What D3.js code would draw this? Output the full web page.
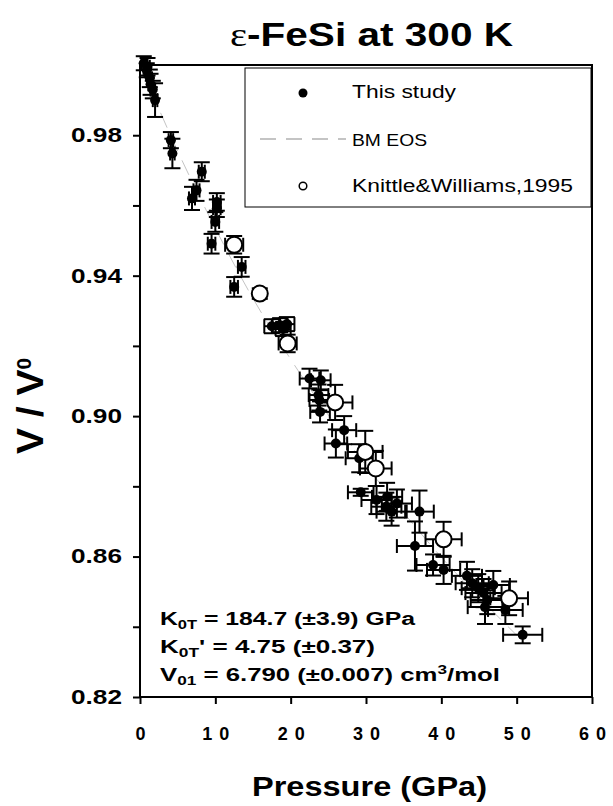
<!DOCTYPE html>
<html>
<head>
<meta charset="utf-8">
<script src="https://cdn.jsdelivr.net/npm/d3@7"></script>
<style>
  body { margin: 0; background: #fff; }
</style>
</head>
<body>
<div id="vis"></div>
<script>
// This study: pressure (GPa), V/V0 and error bars
const studyP = [0.5, 1.0, 0.9, 1.3, 1.4, 1.7, 2.0, 4.1, 4.3, 8.2, 7.5, 6.9, 10.2, 10.2, 10.0, 9.5,
  13.5, 12.5, 17.5, 18.6, 19.5, 19.0, 22.5, 24.0, 23.7, 23.8, 23.9, 27.1, 26.0, 29.1, 29.3,
  31.4, 32.8, 32.7, 34.1, 33.4, 37.1, 36.5, 38.9, 40.3, 43.4, 44.1, 44.9, 45.6, 46.9, 46.1, 45.8, 48.5, 50.8];
const studyV = [1.0005, 0.9995, 0.9985, 0.9962, 0.9945, 0.9930, 0.9900, 0.9786, 0.9748, 0.9696, 0.9643, 0.9620,
  0.9610, 0.9592, 0.9553, 0.9491, 0.9425, 0.9368, 0.9256, 0.9259, 0.9262, 0.9248, 0.9107, 0.9102, 0.9060,
  0.9046, 0.9012, 0.8960, 0.8922, 0.8880, 0.8783, 0.8761, 0.8770, 0.8742, 0.8751, 0.8728, 0.8728, 0.8630,
  0.8576, 0.8562, 0.8545, 0.8524, 0.8510, 0.8496, 0.8519, 0.8476, 0.8456, 0.8448, 0.8377];
const studyPErr = [0.3, 0.3, 0.3, 0.3, 0.3, 0.3, 0.3, 0.3, 0.3, 0.4, 0.4, 0.4, 0.5, 0.5, 0.5, 0.5,
  0.5, 0.5, 1.0, 1.0, 1.0, 1.0, 1.3, 1.3, 1.3, 1.3, 1.3, 1.6, 1.5, 1.8, 1.7,
  2.0, 2.0, 2.0, 2.0, 2.0, 1.9, 2.4, 2.2, 2.2, 2.0, 2.2, 2.2, 2.4, 2.2, 2.2, 2.3, 2.3, 2.6];
const studyVErr = [0.002, 0.0025, 0.002, 0.0025, 0.003, 0.0025, 0.0048, 0.0023, 0.0042, 0.0027, 0.003, 0.0033,
  0.0025, 0.0025, 0.0028, 0.0028, 0.0028, 0.0028, 0.002, 0.002, 0.002, 0.002, 0.0028, 0.0028, 0.003,
  0.003, 0.003, 0.004, 0.004, 0.004, 0.001, 0.004, 0.004, 0.004, 0.004, 0.004, 0.006, 0.007,
  0.003, 0.004, 0.004, 0.004, 0.004, 0.004, 0.004, 0.004, 0.0048, 0.004, 0.0024];

// Knittle & Williams, 1995
const kwP = [12.5, 15.9, 19.6, 25.9, 29.9, 31.3, 40.3, 49.0];
const kwV = [0.9488, 0.9349, 0.9207, 0.9039, 0.8898, 0.8851, 0.8649, 0.8481];
const kwPErr = [1.2, 0.5, 1.2, 2.3, 2.3, 2.1, 2.4, 2.5];
const kwVErr = [0.0025, 0.0015, 0.0025, 0.005, 0.006, 0.005, 0.005, 0.0048];

// BM EOS curve
const eosP = [0, 5, 10, 15, 20, 25, 30, 35, 40, 45, 50];
const eosV = [1.0, 0.9755, 0.9535, 0.9335, 0.9162, 0.9003, 0.8859, 0.8725, 0.8598, 0.8484, 0.8376];

const xTicks = [0, 10, 20, 30, 40, 50, 60];
const yTicks = [0.82, 0.84, 0.86, 0.88, 0.90, 0.92, 0.94, 0.96, 0.98];
const yTickLabels = ["0.82", "", "0.86", "", "0.90", "", "0.94", "", "0.98"];
const legendLabels = ["This study", "BM EOS", "Knittle&Williams,1995"];

const font = '"Liberation Sans", Arial, Helvetica, sans-serif';
const W = 613, H = 806;

const svg = d3.select("#vis").append("svg")
  .attr("width", W).attr("height", H)
  .style("display", "block")
  .style("background", "#fff");

const x = d3.scaleLinear().domain([0, 60]).range([140, 592]);
const y = d3.scaleLinear().domain([0.82, 1.0]).range([697, 65]);

// title
const title = svg.append("text")
  .attr("x", 230).attr("y", 46)
  .attr("textLength", 283).attr("lengthAdjust", "spacingAndGlyphs")
  .style("font-family", font).style("font-size", "33px").style("font-weight", "bold");
title.append("tspan").style("font-family", '"Liberation Serif", "Times New Roman", serif')
  .style("font-weight", "normal").text("ε");
title.append("tspan").text("-FeSi at 300 K");

// BM EOS dashed line
const line = d3.line().x(d => x(d[0])).y(d => y(d[1])).curve(d3.curveMonotoneX);
svg.append("path")
  .datum(eosP.map((p, i) => [p, eosV[i]]))
  .attr("d", line)
  .attr("fill", "none")
  .attr("stroke", "#c4c4c4")
  .attr("stroke-width", 1)
  .attr("stroke-dasharray", "16,10");

// error bars
function errorBars(g, P, V, PE, VE) {
  const capY = 8, capX = 7;
  P.forEach((p, i) => {
    const cx = x(p), cy = y(V[i]);
    const y0 = y(V[i] - VE[i]), y1 = y(V[i] + VE[i]);
    const x0 = x(p - PE[i]), x1 = x(p + PE[i]);
    const segs = [
      [cx, y0, cx, y1], [cx - capY, y0, cx + capY, y0], [cx - capY, y1, cx + capY, y1],
      [x0, cy, x1, cy], [x0, cy - capX, x0, cy + capX], [x1, cy - capX, x1, cy + capX]
    ];
    g.selectAll(null).data(segs).enter().append("line")
      .attr("x1", d => d[0]).attr("y1", d => d[1])
      .attr("x2", d => d[2]).attr("y2", d => d[3])
      .attr("stroke", "#000").attr("stroke-width", 2);
  });
}

const studyG = svg.append("g");
errorBars(studyG, studyP, studyV, studyPErr, studyVErr);
studyG.selectAll("circle").data(studyP).enter().append("circle")
  .attr("cx", d => x(d))
  .attr("cy", (d, i) => y(studyV[i]))
  .attr("r", 5)
  .attr("fill", "#000");

const kwG = svg.append("g");
errorBars(kwG, kwP, kwV, kwPErr, kwVErr);
kwG.selectAll("circle").data(kwP).enter().append("circle")
  .attr("cx", d => x(d))
  .attr("cy", (d, i) => y(kwV[i]))
  .attr("r", 8)
  .attr("fill", "#fff")
  .attr("stroke", "#000")
  .attr("stroke-width", 2);

// axes
const yAxis = svg.append("g").attr("transform", "translate(140,0)")
  .call(d3.axisLeft(y).tickValues(yTicks).tickSize(7).tickFormat((d, i) => yTickLabels[i]));
yAxis.select(".domain").remove();
yAxis.selectAll(".tick line").attr("stroke-width", 2);
yAxis.selectAll(".tick text")
  .attr("x", -18)
  .style("font-family", font).style("font-size", "20px").style("font-weight", "bold")
  .attr("fill", "#000")
  .each(function () {
    if (this.textContent) d3.select(this).attr("textLength", 51).attr("lengthAdjust", "spacingAndGlyphs");
  });

const xAxis = svg.append("g").attr("transform", "translate(0,697)")
  .call(d3.axisBottom(x).tickValues(xTicks).tickSize(7).tickFormat(d => String(d)));
xAxis.select(".domain").remove();
xAxis.selectAll(".tick line").attr("stroke-width", 2);
xAxis.selectAll(".tick text")
  .attr("y", 0).attr("dy", 0)
  .attr("transform", "translate(0,43)")
  .style("font-family", font).style("font-size", "18px").style("font-weight", "bold")
  .attr("fill", "#000")
  .each(function () {
    const n = this.textContent.length;
    if (n > 1) d3.select(this).attr("textLength", 27).attr("lengthAdjust", "spacing");
  });

// frame
svg.append("rect")
  .attr("x", 140).attr("y", 65).attr("width", 452).attr("height", 632)
  .attr("fill", "none").attr("stroke", "#000").attr("stroke-width", 2);

// axis titles
svg.append("text")
  .attr("x", 252).attr("y", 796)
  .attr("textLength", 235).attr("lengthAdjust", "spacingAndGlyphs")
  .style("font-family", font).style("font-size", "28px").style("font-weight", "bold")
  .text("Pressure (GPa)");

const yTitle = svg.append("text")
  .attr("transform", "translate(43,406) scale(1.3,1) rotate(-90)")
  .attr("text-anchor", "middle")
  .attr("textLength", 96).attr("lengthAdjust", "spacingAndGlyphs")
  .style("font-family", font).style("font-size", "28px").style("font-weight", "bold");
yTitle.append("tspan").text("V / V");
yTitle.append("tspan").style("font-size", "15px").attr("dy", -9).text("0");

// legend
const leg = svg.append("g");
leg.append("rect")
  .attr("x", 245).attr("y", 68).attr("width", 346).attr("height", 139)
  .attr("fill", "#fff").attr("stroke", "#000").attr("stroke-width", 1);
leg.append("circle").attr("cx", 303).attr("cy", 93).attr("r", 4.5).attr("fill", "#000");
leg.append("line").attr("x1", 260).attr("x2", 346).attr("y1", 139).attr("y2", 139)
  .attr("stroke", "#8a8a8a").attr("stroke-width", 1.2).attr("stroke-dasharray", "16,10");
leg.append("circle").attr("cx", 303).attr("cy", 186).attr("r", 3.8)
  .attr("fill", "#fff").attr("stroke", "#000").attr("stroke-width", 1.5);
const legY = [98, 146, 192];
const legLen = [104, 75, 221];
const legSize = [17.5, 16.5, 17.5];
leg.selectAll("text.lg").data(legendLabels).enter().append("text")
  .attr("class", "lg")
  .attr("x", 352).attr("y", (d, i) => legY[i])
  .attr("textLength", (d, i) => legLen[i]).attr("lengthAdjust", "spacingAndGlyphs")
  .style("font-family", font).style("font-size", (d, i) => legSize[i] + "px")
  .text(d => d);

// fit parameters
function paramLine(yy, len, parts) {
  const t = svg.append("text")
    .attr("x", 160).attr("y", yy)
    .attr("textLength", len).attr("lengthAdjust", "spacingAndGlyphs")
    .style("font-family", font).style("font-size", "18px").style("font-weight", "bold");
  parts.forEach(p => {
    const s = t.append("tspan").text(p[0]);
    if (p[1] === "sub") s.style("font-size", "12px").attr("dy", 4);
    if (p[1] === "sup") s.style("font-size", "12px").attr("dy", -7);
    if (p[1] === "back") s.attr("dy", -4);
    if (p[1] === "down") s.attr("dy", 7);
  });
}
paramLine(625, 255, [["K"], ["0T", "sub"], [" = 184.7 (±3.9)  GPa", "back"]]);
paramLine(653, 215, [["K"], ["0T", "sub"], ["' = 4.75 (±0.37)", "back"]]);
paramLine(681, 340, [["V"], ["01", "sub"], [" = 6.790 (±0.007)  cm", "back"], ["3", "sup"], ["/mol", "down"]]);
</script>
</body>
</html>
